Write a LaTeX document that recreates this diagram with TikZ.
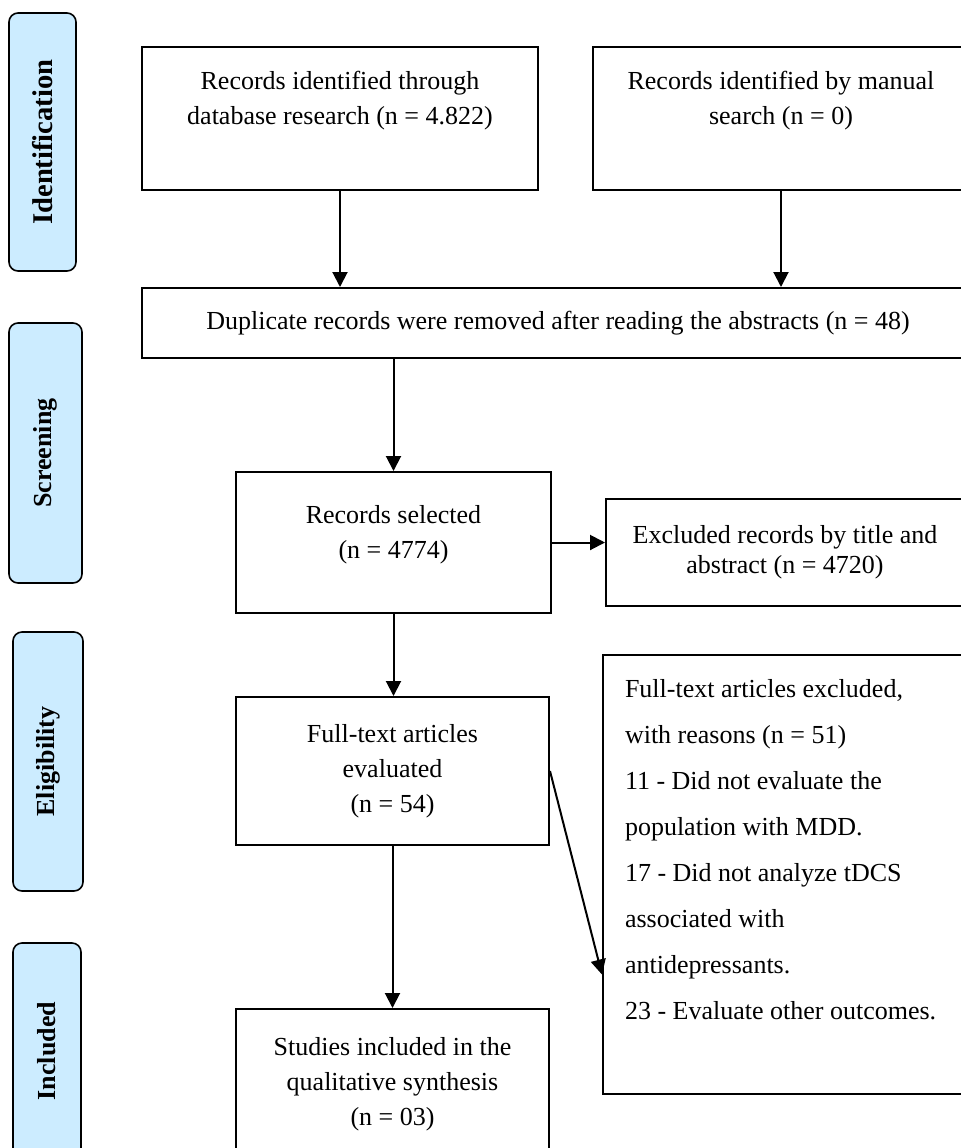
\documentclass[tikz,border=0pt]{standalone}
\usepackage{fontspec}
\setmainfont{Liberation Serif}
\usetikzlibrary{arrows.meta,positioning}
\definecolor{stagefill}{HTML}{CCECFF}

\tikzset{
  stage/.style={draw, rounded corners=4.5pt, fill=stagefill, line width=0.8pt,
    rotate=90, inner sep=0pt, font=\fontsize{13}{15}\selectfont\bfseries},
  block/.style={draw, line width=1pt, align=center, inner sep=0pt},
  txt/.style={align=center, inner sep=0pt}
}

\begin{document}
\begin{tikzpicture}[x=0.5pt, y=-0.5pt, line width=1pt,
    >={Triangle[length=7.5pt,width=7.5pt]},
    font=\fontsize{13}{17.5}\selectfont]
  \useasboundingbox (0,0) rectangle (961,1148);
  \clip (0,0) rectangle (961,1148);

  % phases
  \node[stage, minimum width=129pt, minimum height=33.5pt, font=\fontsize{14.3}{16}\selectfont\bfseries] (ident) at (42.5,142) {Identification};
  \node[stage, minimum width=130pt, minimum height=36.5pt] (screen) at (45.5,453) {Screening};
  \node[stage, minimum width=129.5pt, minimum height=35pt] (elig) at (48,761.5) {Eligibility};
  \node[stage, minimum width=108pt, minimum height=34pt] (incl) at (47,1051) {Included};

  % boxes
  \node[block, minimum width=198pt, minimum height=71.5pt] (dbase) at (340,118.5) {};
  \node[txt] (dbase-t) at ([yshift=9pt]dbase.center) {Records identified through\\database research (n = 4.822)};
  \node[block, minimum width=188pt, minimum height=71.5pt] (manual) at (781,118.5) {};
  \node[txt] (manual-t) at ([yshift=9pt]manual.center) {Records identified by manual\\search (n = 0)};
  \node[block, minimum width=416pt, minimum height=35pt] (dup) at (558,323)
    {Duplicate records were removed after reading the abstracts (n = 48)};
  \node[block, minimum width=157.5pt, minimum height=70.5pt] (selected) at (393.5,542.5) {};
  \node[txt] (selected-t) at ([yshift=4pt]selected.center) {Records selected\\(n = 4774)};
  \node[block, minimum width=179pt, minimum height=53.5pt, font=\fontsize{13}{15}\selectfont] (excl) at (785,552.5)
    {Excluded records by title and\\abstract (n = 4720)};
  \node[block, minimum width=156.5pt, minimum height=74pt] (fulltext) at (392.5,771)
    {Full-text articles\\evaluated\\(n = 54)};
  \node[block, minimum width=188.5pt, minimum height=219.5pt] (reasons) at (791.5,874.5) {};
  \node[txt, align=left, anchor=north west, font=\fontsize{13}{23}\selectfont] (reasons-t)
    at ([xshift=11pt,yshift=-12pt]reasons.north west)
    {Full-text articles excluded,\\with reasons (n = 51)\\11 - Did not evaluate the\\population with MDD.\\17 - Did not analyze tDCS\\associated with\\antidepressants.\\23 - Evaluate other outcomes.};
  \node[block, minimum width=156.5pt, minimum height=75.5pt] (studies) at (392.5,1084.5)
    {Studies included in the\\qualitative synthesis\\(n = 03)};

  % arrows
  \draw[->] (dbase.south) -- (dbase.south |- dup.north);
  \draw[->] (manual.south) -- (manual.south |- dup.north);
  \draw[->] (selected.north |- dup.south) -- (selected.north);
  \draw[->] (selected.east) -- (selected.east -| excl.west);
  \draw[->] (selected.south) -- (selected.south |- fulltext.north);
  \draw[->] (fulltext.south) -- (studies.north);
  \draw[->] (fulltext.east) -- ([yshift=-50pt]reasons.west);
\end{tikzpicture}
\end{document}
